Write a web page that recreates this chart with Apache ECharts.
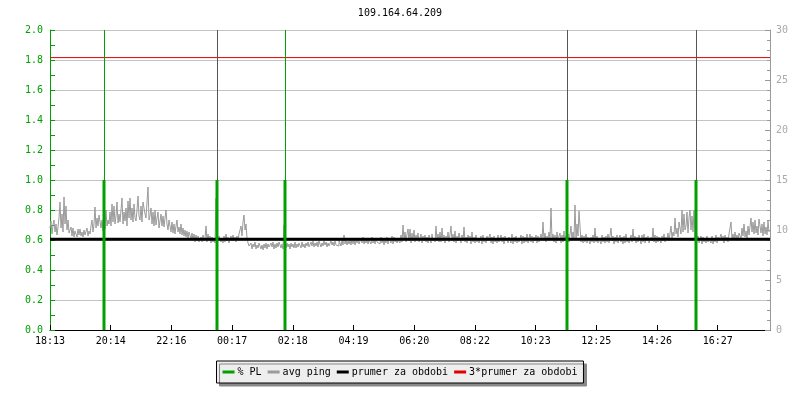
<!DOCTYPE html>
<html>
<head>
<meta charset="utf-8">
<script src="https://cdn.jsdelivr.net/npm/echarts@6/dist/echarts.min.js"></script>
<style>html,body{margin:0;padding:0;background:#fff}#c{width:800px;height:400px}</style>
</head>
<body>
<div id="c"></div>
<script>
const titleText = '109.164.64.209';
const tickLabels = ['18:13','20:14','22:16','00:17','02:18','04:19','06:20','08:22','10:23','12:25','14:26','16:27'];
const tickStepMin = 121.4;
const totalMin = 1440;
const pingStepMin = 2;
const pingValues = [
10.2,10.9,9.6,10.5,11.0,9.8,10.6,9.5,10.3,11.2,
12.8,10.2,11.6,9.8,13.3,10.6,12.4,10.0,11.0,9.7,
9.6,10.3,9.4,10.2,9.3,9.9,9.7,9.3,10.1,9.5,
10.1,9.4,9.8,9.3,10.0,9.5,9.6,10.2,9.4,9.9,
9.6,10.4,11.0,9.8,10.6,12.3,10.2,11.2,10.4,11.5,
11.4,10.2,11.0,9.9,11.6,10.1,12.0,10.4,11.0,10.6,
11.8,10.4,12.6,10.8,12.4,10.6,11.4,12.8,10.7,11.6,
10.8,12.0,13.2,10.6,11.8,10.9,12.2,10.4,12.9,11.2,
13.2,11.0,12.2,10.8,12.6,11.2,10.9,12.0,13.4,11.4,
11.0,12.4,10.8,12.8,13.0,11.6,11.2,12.8,14.3,11.0,
11.4,12.2,10.6,11.8,10.4,12.0,10.5,11.2,11.8,10.2,
10.2,11.6,10.4,11.4,10.3,11.2,12.0,10.6,10.0,11.0,
11.2,9.8,10.8,9.7,10.6,9.6,10.4,11.0,9.8,10.3,
9.6,10.6,9.5,10.2,9.4,10.0,9.3,9.9,9.2,9.8,
9.8,9.1,9.7,9.0,9.6,8.8,9.5,8.9,9.4,8.8,
8.7,9.3,8.8,9.5,8.9,9.2,10.4,8.8,9.6,8.9,
9.4,8.7,9.3,8.8,9.2,8.7,13.2,9.6,8.9,9.4,
9.5,8.8,9.2,8.7,9.4,8.8,9.6,8.9,9.3,8.7,
8.8,9.4,8.9,9.5,8.9,9.3,8.8,9.4,9.0,9.6,
9.8,10.4,9.4,10.8,11.5,10.0,10.6,9.2,8.7,8.4,
8.2,8.7,8.1,8.6,8.3,8.8,8.1,8.5,8.2,8.7,
8.7,8.1,8.5,8.0,8.6,8.2,8.7,8.1,8.6,8.3,
8.2,8.7,8.3,8.8,8.1,8.6,8.2,8.7,8.3,8.8,
8.7,8.2,8.6,8.1,10.5,8.5,8.2,8.7,8.3,8.6,
8.1,8.7,8.3,8.6,8.2,8.8,8.2,8.6,8.3,8.7,
8.7,8.2,8.8,8.3,8.6,8.2,8.7,8.4,8.8,8.3,
8.2,8.8,8.4,8.9,8.3,8.7,8.4,8.8,8.3,8.9,
8.8,8.3,8.7,8.4,8.9,8.5,8.8,8.3,8.7,8.4,
8.4,8.9,8.5,8.8,8.4,8.9,8.5,8.7,8.4,9.0,
8.9,8.4,9.0,8.5,9.5,8.6,9.0,8.5,8.9,8.6,
9.0,8.5,9.2,8.6,9.1,8.5,9.0,8.7,9.2,8.6,
8.5,9.2,8.7,9.3,8.6,9.1,8.7,9.2,8.6,9.0,
9.2,8.6,9.3,8.7,9.1,8.6,9.2,8.8,9.0,8.6,
8.6,9.3,8.7,9.2,8.5,9.1,8.7,9.3,8.6,9.2,
9.1,8.7,9.4,8.6,9.3,8.8,9.2,8.7,9.0,8.8,
8.7,9.5,8.8,10.5,9.0,9.8,8.8,9.6,10.1,8.9,
10.1,8.7,9.7,8.9,10.0,8.8,9.5,9.0,9.7,8.8,
8.8,9.6,8.7,9.4,8.9,9.5,8.8,9.3,8.7,9.5,
9.5,8.7,9.6,8.9,9.2,8.8,10.4,8.9,9.6,8.8,
9.8,8.8,10.2,8.9,9.5,8.7,9.4,9.0,9.8,8.8,
8.8,10.4,8.9,9.6,8.8,9.9,8.7,9.4,8.9,9.7,
9.6,8.7,9.5,8.9,10.3,8.8,9.3,8.7,9.5,8.9,
9.4,8.6,9.8,8.8,9.3,8.7,9.5,8.8,9.2,8.7,
8.7,9.4,8.6,9.5,8.8,9.2,8.7,9.4,8.9,9.3,
9.6,8.7,9.3,8.6,9.4,8.8,9.2,8.7,9.5,8.8,
8.7,9.5,8.8,9.3,8.6,9.4,8.9,9.2,8.7,9.3,
9.4,8.7,9.6,8.6,9.3,8.8,9.4,8.7,9.2,8.8,
8.8,9.5,8.6,9.4,8.7,9.3,8.8,9.6,8.7,9.2,
9.6,8.8,9.4,8.7,9.3,8.9,9.5,8.7,9.4,8.8,
8.8,9.6,9.0,10.8,8.9,9.7,8.8,9.4,9.1,9.8,
9.1,12.2,9.0,9.6,8.8,9.5,8.7,9.8,8.9,9.4,
9.7,8.7,9.5,8.8,9.9,8.9,9.4,8.7,9.6,8.8,
9.6,10.4,8.9,9.8,9.2,12.5,9.0,10.6,9.4,11.9,
11.9,8.8,9.5,8.7,9.4,8.8,9.6,8.7,9.3,8.9,
8.6,9.3,8.8,9.5,8.7,10.2,8.8,9.4,8.7,9.2,
9.4,8.6,9.5,8.8,9.3,8.7,9.4,8.8,9.6,8.7,
8.7,10.2,8.9,9.4,8.6,9.3,8.8,9.5,8.7,9.2,
9.5,8.8,9.3,8.6,9.4,8.7,9.6,8.8,9.2,8.7,
8.7,9.5,8.8,10.1,8.9,9.4,8.7,9.3,8.8,9.5,
9.4,8.6,9.5,8.8,9.6,8.7,9.3,8.9,9.4,8.7,
8.7,9.3,8.9,10.2,8.8,9.5,8.7,9.4,8.8,9.3,
9.5,8.7,9.4,8.9,9.6,8.8,9.3,9.0,9.7,8.9,
9.0,10.4,9.2,9.8,9.4,11.2,9.6,10.2,9.3,10.8,
10.8,9.6,12.0,9.8,11.6,10.0,10.4,11.8,9.7,11.2,
12.0,10.0,11.4,9.8,12.0,9.2,10.6,8.9,9.4,8.7,
8.7,9.4,8.6,9.3,8.8,9.2,8.7,9.4,8.8,9.1,
9.3,8.7,9.4,8.6,9.2,8.8,9.5,8.7,9.3,8.9,
8.8,9.6,8.9,9.4,8.7,9.5,8.9,9.3,8.8,9.6,
9.5,10.8,9.1,9.6,9.0,9.8,9.2,9.5,8.9,9.7,
9.8,9.1,10.2,9.4,10.6,9.3,9.9,9.2,10.4,9.5,
9.6,11.2,9.8,10.8,9.6,11.0,9.7,10.4,9.5,11.1,
11.2,9.7,10.6,9.4,10.8,9.6,10.3,9.5,10.9,9.8
];
const plTimes = [108, 334, 470, 1034, 1292];
const plValues = [1.0, 1.0, 1.0, 1.0, 1.0];
const prumer = 9.08;
const prumer3 = 3 * prumer;
const seriesNames = ['% PL', 'avg ping', 'prumer za obdobi', '3*prumer za obdobi'];

const FONT = 'DejaVu Sans Mono';
const GREEN = '#00a000';
const pingData = pingValues.map((v, i) => [i * pingStepMin, v]);
const plData = plTimes.map((t, i) => [t, plValues[i]]);
const vColors = ['#00a000', '#555555', '#00a000', '#555555', '#555555'];

const chart = echarts.init(document.getElementById('c'), null, {renderer: 'canvas'});
chart.setOption({
  animation: false,
  backgroundColor: '#fff',
  title: {
    text: titleText, left: 'center', top: 3,
    textStyle: {fontFamily: FONT, fontSize: 10, fontWeight: 'normal', color: '#000'}
  },
  grid: {left: 50, right: 30, top: 30, bottom: 70, containLabel: false},
  legend: {
    data: seriesNames, left: 'center', top: 361,
    itemWidth: 12, itemHeight: 3, itemGap: 6, icon: 'rect',
    padding: [6, 6, 6, 6],
    backgroundColor: '#eeeeee', borderColor: '#000', borderWidth: 1,
    shadowColor: '#888', shadowOffsetX: 3, shadowOffsetY: 3, shadowBlur: 0,
    textStyle: {fontFamily: FONT, fontSize: 10, color: '#000', padding: [0, 0, 0, -2]}
  },
  xAxis: {
    type: 'value', min: 0, max: totalMin, interval: tickStepMin,
    axisLine: {lineStyle: {color: '#000', width: 1}},
    axisTick: {inside: true, length: 5, lineStyle: {color: '#000'}},
    splitLine: {show: false},
    axisLabel: {
      fontFamily: FONT, fontSize: 10, color: '#000', margin: 6, showMaxLabel: false,
      formatter: v => {
        const k = Math.round(v / tickStepMin);
        return (Math.abs(v - k * tickStepMin) < 0.01 && k < tickLabels.length) ? tickLabels[k] : '';
      }
    }
  },
  yAxis: [
    {
      type: 'value', min: 0, max: 2, interval: 0.2, position: 'left',
      axisLine: {show: true, lineStyle: {color: GREEN, width: 1}},
      axisTick: {show: true, inside: true, length: 5, lineStyle: {color: GREEN}},
      minorTick: {show: true, splitNumber: 2, length: 5, lineStyle: {color: GREEN}},
      splitLine: {show: true, lineStyle: {color: '#c4c4c4', width: 1}},
      axisLabel: {fontFamily: FONT, fontSize: 10, color: GREEN, margin: 7, formatter: v => v.toFixed(1)}
    },
    {
      type: 'value', min: 0, max: 30, interval: 5, position: 'right',
      axisLine: {show: true, lineStyle: {color: '#999', width: 1}},
      axisTick: {show: true, inside: true, length: 5, lineStyle: {color: '#999'}},
      minorTick: {show: true, splitNumber: 5, length: 3, lineStyle: {color: '#999'}},
      splitLine: {show: false},
      axisLabel: {fontFamily: FONT, fontSize: 10, color: '#aaa', margin: 6}
    }
  ],
  series: [
    {
      name: seriesNames[1], type: 'line', yAxisIndex: 1, data: pingData,
      step: 'end', showSymbol: false, symbol: 'none', z: 2,
      lineStyle: {color: '#9a9a9a', width: 1}, itemStyle: {color: '#9a9a9a'}
    },
    {
      name: seriesNames[2], type: 'line', yAxisIndex: 1,
      data: [[0, prumer], [totalMin, prumer]],
      showSymbol: false, symbol: 'none', z: 3,
      lineStyle: {color: '#000', width: 3}, itemStyle: {color: '#000'}
    },
    {
      name: seriesNames[3], type: 'line', yAxisIndex: 1,
      data: [[0, prumer3], [totalMin, prumer3]],
      showSymbol: false, symbol: 'none', z: 3,
      lineStyle: {color: '#e00000', width: 1}, itemStyle: {color: '#e00000'}
    },
    {
      name: seriesNames[0], type: 'bar', yAxisIndex: 0, data: plData,
      barWidth: 3, z: 5, itemStyle: {color: GREEN},
      markLine: {
        silent: true, symbol: 'none', label: {show: false},
        data: plTimes.map((t, i) => ({xAxis: t, lineStyle: {color: vColors[i], width: 1, type: 'solid'}}))
      }
    }
  ]
});
</script>
</body>
</html>
